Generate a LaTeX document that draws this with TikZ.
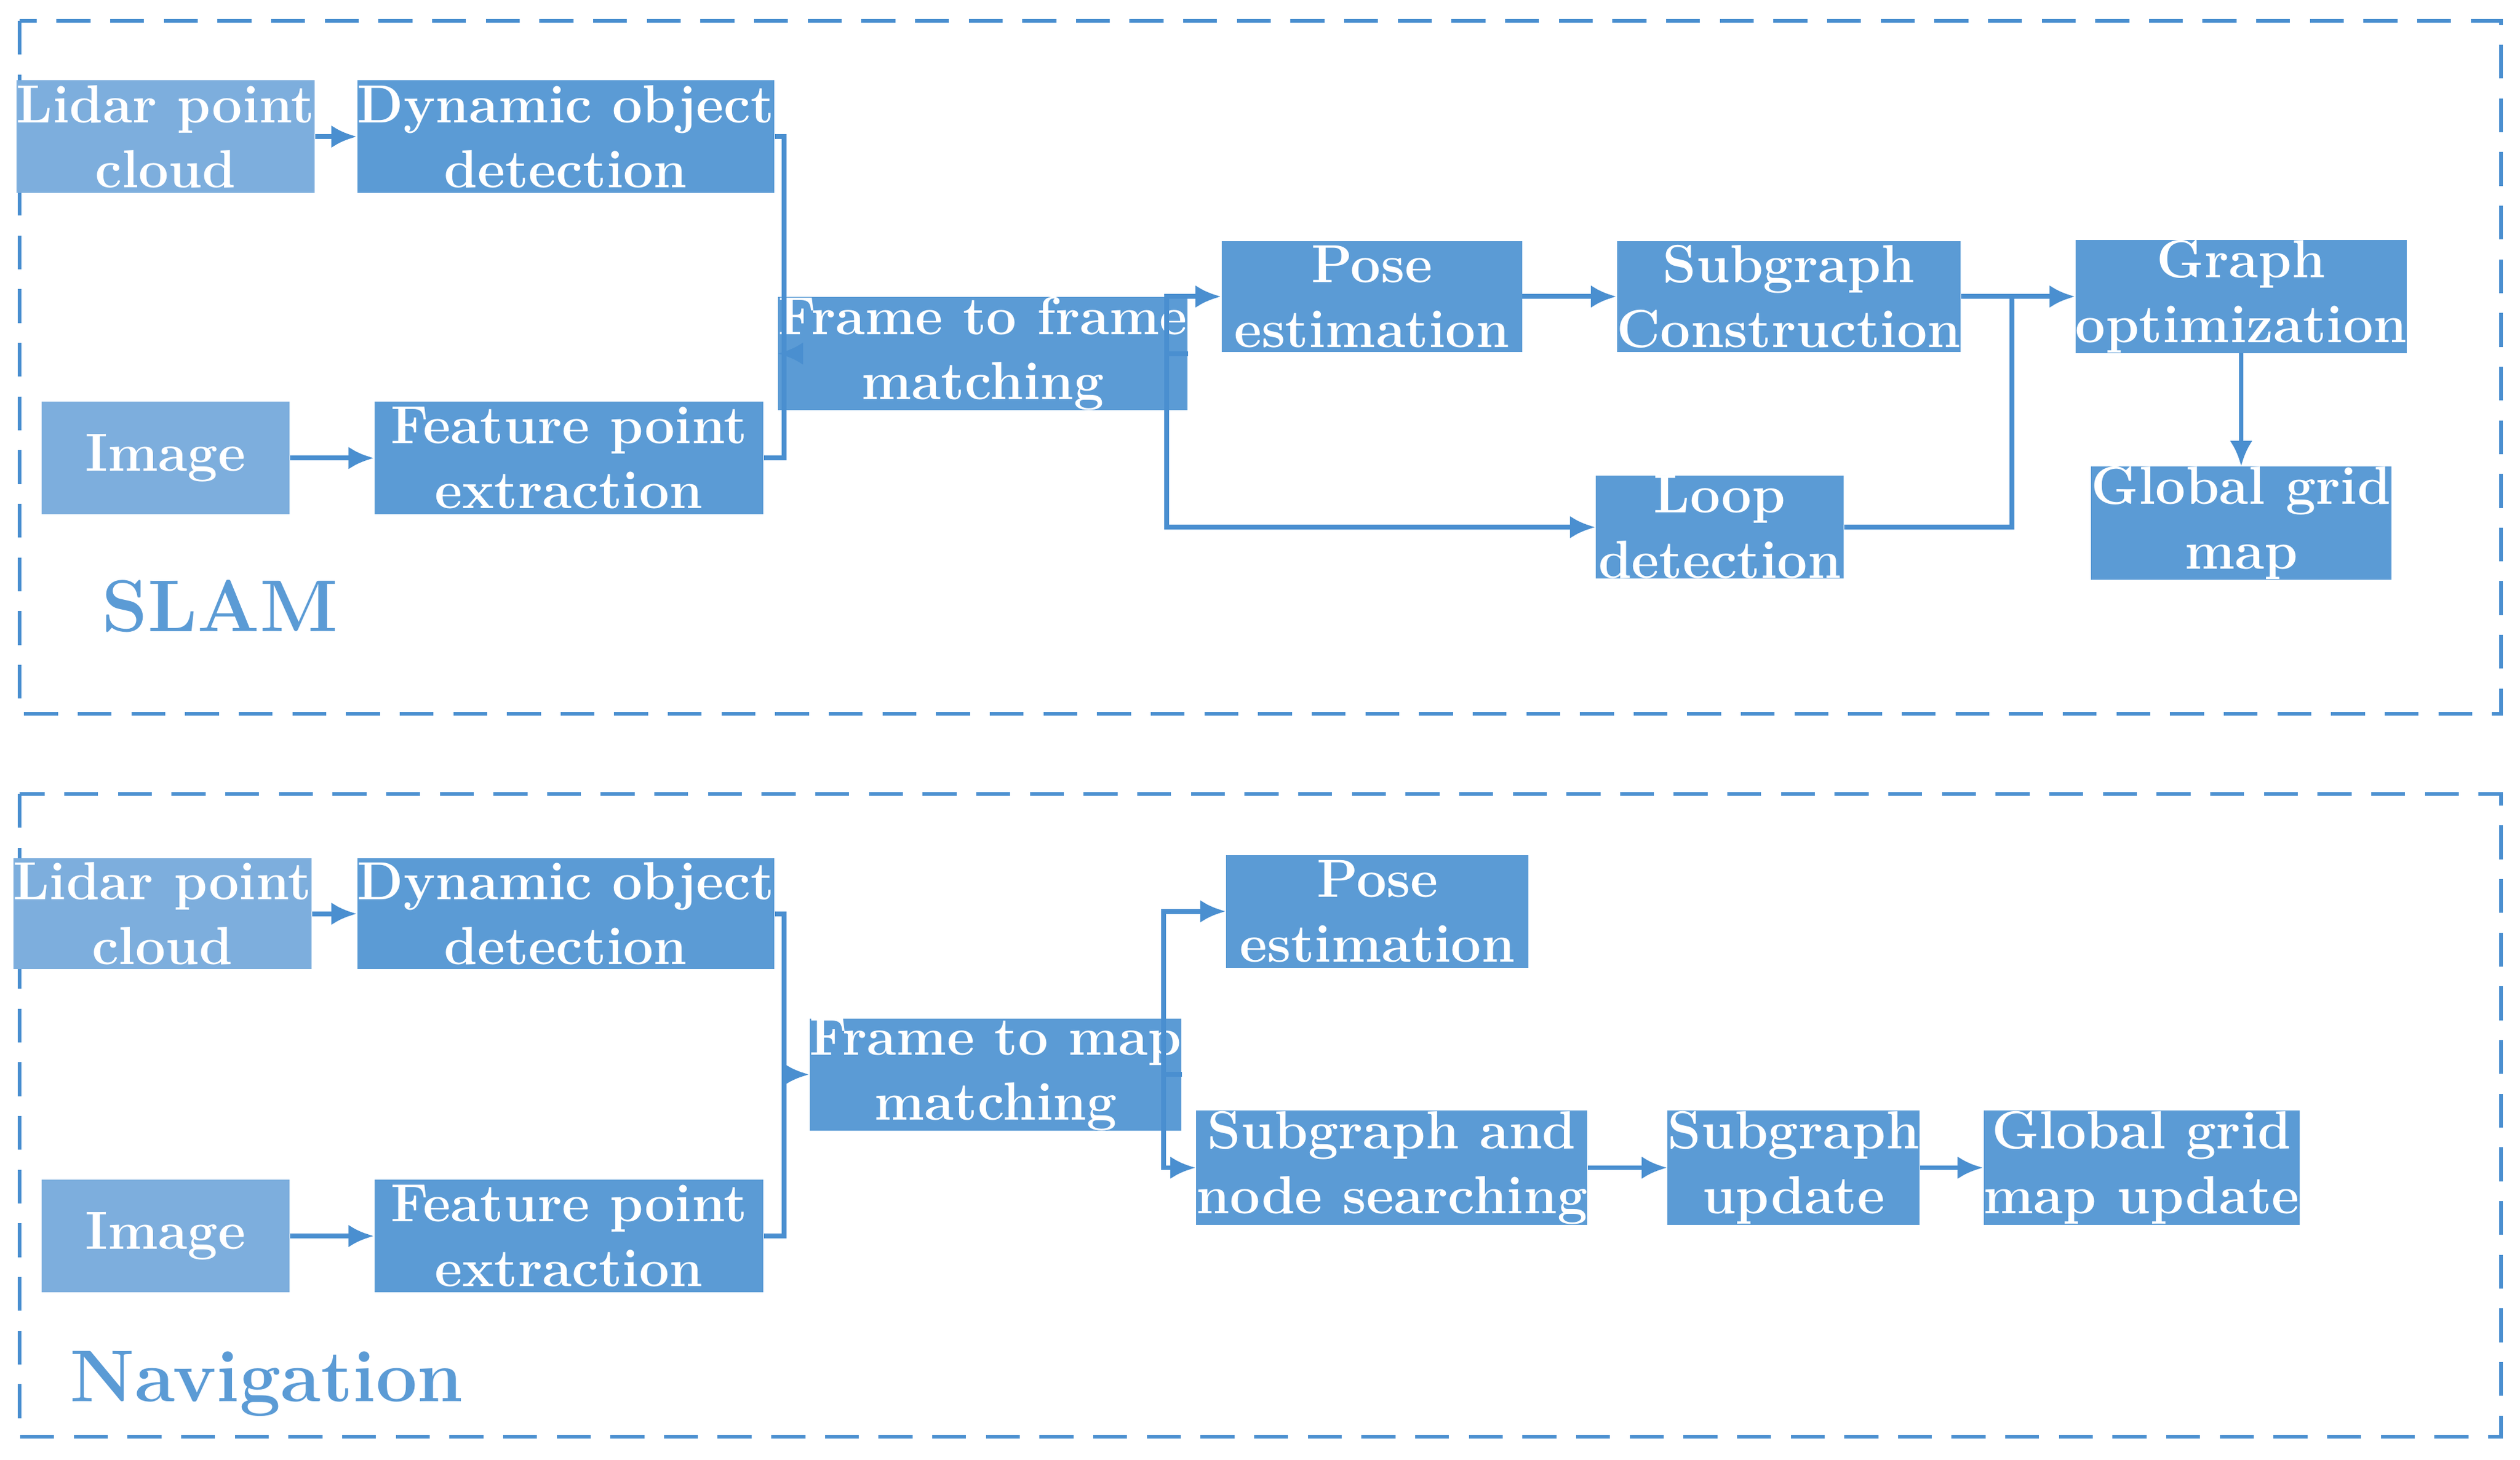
\documentclass[tikz,border=0pt]{standalone}
\usetikzlibrary{arrows.meta}
\definecolor{dk}{HTML}{5B9BD5}
\definecolor{lt}{HTML}{7DAEDD}
\definecolor{ln}{HTML}{4A8FD0}
\begin{document}
\begin{tikzpicture}[x=0.02cm,y=-0.02cm,
  box/.style={fill=dk,draw=none,inner sep=0pt,text=white,align=center,font=\fontsize{19}{23}\selectfont\bfseries},
  lbox/.style={box,fill=lt},
  ar/.style={draw=ln,line width=1.7pt,-{Latex[length=9pt,width=8pt]}},
  ln/.style={draw=ln,line width=1.7pt},
  frame/.style={draw=ln,line width=1.3pt,dash pattern=on 12pt off 7pt},
  lab/.style={text=dk,font=\fontsize{26}{30}\selectfont\bfseries}]
\newcommand\bx[7]{\node[#7,minimum width={(#4-#2)*0.02cm},minimum height={(#5-#3)*0.02cm}] (#1) at ({(#2+#4)/2},{(#3+#5)/2}) {#6};}
\useasboundingbox (0,0) rectangle (1568,908);
\draw[frame] (12,13) rectangle (1556,444);
\draw[frame] (12,494) rectangle (1556,894);
% SLAM
\bx{l1}{26}{50}{180}{120}{Lidar point\\cloud}{lbox}
\bx{d1}{231}{50}{473}{120}{Dynamic object\\detection}{box}
\bx{i1}{26}{250}{180}{320}{Image}{lbox}
\bx{f1}{233}{250}{475}{320}{Feature point\\extraction}{box}
\bx{ff}{510}{185}{713}{255}{Frame to frame\\matching}{box}
\bx{p1}{760}{150}{947}{219}{Pose\\estimation}{box}
\bx{sc}{1011}{150}{1215}{219}{Subgraph\\Construction}{box}
\bx{go}{1293}{150}{1496}{219}{Graph\\optimization}{box}
\bx{lp}{993}{296}{1147}{360}{Loop\\detection}{box}
\bx{gg}{1301}{291}{1488}{360}{Global grid\\map}{box}
\node[lab] (slam) at (137,377) {SLAM};
\draw[ar] (l1.east) -- (d1.west);
\draw[ar] (i1.east) -- (f1.west);
\draw[ln] (d1.east) -- (488,85) -- (488,285) -- (f1.east);
\coordinate (j1) at (488,220);
\draw[ar] (j1) -- (ff.west);
\draw[ln] (ff.east) -- (726,220);
\draw[ar] (726,220) |- (p1.west);
\draw[ar] (726,220) |- (lp.west);
\draw[ar] (p1.east) -- (sc.west);
\draw[ar] (sc.east) -- (go.west);
\draw[ln] (lp.east) -- (1252,328) -- (1252,184.5);
\draw[ar] (go.south) -- (gg.north);
% Navigation
\bx{l2}{22}{534}{180}{603}{Lidar point\\cloud}{lbox}
\bx{d2}{231}{534}{473}{603}{Dynamic object\\detection}{box}
\bx{i2}{26}{734}{180}{804}{Image}{lbox}
\bx{f2}{233}{734}{475}{804}{Feature point\\extraction}{box}
\bx{fm}{526}{634}{713}{703}{Frame to map\\matching}{box}
\bx{p2}{763}{532}{951}{602}{Pose\\estimation}{box}
\bx{sn}{758}{691}{974}{762}{Subgraph and\\node searching}{box}
\bx{su}{1039}{691}{1193}{762}{Subgraph\\update}{box}
\bx{gu}{1239}{691}{1426}{762}{Global grid\\map update}{box}
\node[lab] (nav) at (166,861) {Navigation};
\draw[ar] (l2.east) -- (d2.west);
\draw[ar] (i2.east) -- (f2.west);
\draw[ln] (d2.east) -- (488,568.5) -- (488,769) -- (f2.east);
\coordinate (j2) at (488,668.5);
\draw[ar] (j2) -- (fm.west);
\draw[ln] (fm.east) -- (724,668.5);
\draw[ar] (724,668.5) |- (p2.west);
\draw[ar] (724,668.5) |- (sn.west);
\draw[ar] (sn.east) -- (su.west);
\draw[ar] (su.east) -- (gu.west);
\end{tikzpicture}
\end{document}
